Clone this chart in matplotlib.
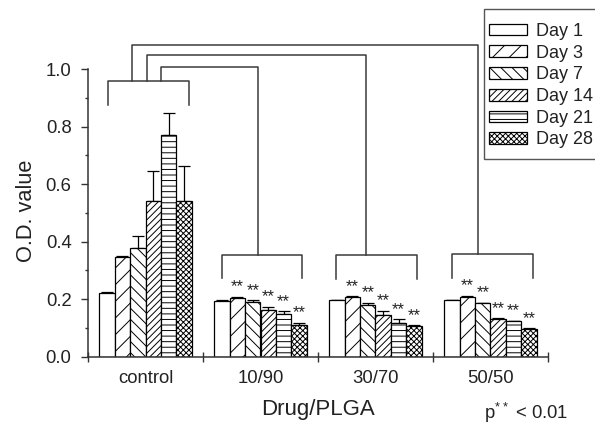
import matplotlib
matplotlib.use("Agg")
import matplotlib.pyplot as plt
from matplotlib.patches import Patch, Rectangle
import numpy as np

plt.rcParams['font.family'] = ['Liberation Sans', 'DejaVu Sans']
plt.rcParams['mathtext.fontset'] = 'custom'
plt.rcParams['mathtext.rm'] = 'Liberation Sans'
plt.rcParams['hatch.linewidth'] = 0.7

groups = ['control', '10/90', '30/70', '50/50']
days = ['Day 1', 'Day 3', 'Day 7', 'Day 14', 'Day 21', 'Day 28']

# O.D. values per day (one list per day, values per group)
day1 = [0.220, 0.194, 0.196, 0.196]
day3 = [0.345, 0.205, 0.207, 0.208]
day7 = [0.379, 0.189, 0.178, 0.185]
day14 = [0.541, 0.163, 0.145, 0.130]
day21 = [0.770, 0.149, 0.117, 0.122]
day28 = [0.541, 0.109, 0.105, 0.095]

# upper error
err1 = [0.003, 0.003, 0.002, 0.002]
err3 = [0.006, 0.003, 0.002, 0.003]
err7 = [0.040, 0.006, 0.009, 0.003]
err14 = [0.106, 0.011, 0.015, 0.003]
err21 = [0.078, 0.009, 0.012, 0.003]
err28 = [0.121, 0.009, 0.004, 0.003]

values = [day1, day3, day7, day14, day21, day28]
errors = [err1, err3, err7, err14, err21, err28]
hatches = ['', '//', '\\\\\\', '/////', '---', 'xxxxxx']
significant = [False, True, True, True]   # ** vs control for days 3-28

fig = plt.figure(figsize=(5.95, 4.24), dpi=100)
ax = fig.add_axes([88/595, 1 - 356.5/424, 460/595, (356.5 - 69.3)/424])

ink = '#222222'
w = 0.134
start = (1 - 6*w)/2
xg = np.arange(len(groups))
for i, (vals, errs) in enumerate(zip(values, errors)):
    x = xg + start + w*(i + 0.5)
    ax.bar(x, vals, width=w, color='white', edgecolor='black', linewidth=0.9,
           hatch=hatches[i], label=days[i], zorder=2)
    ax.errorbar(x, vals, yerr=[np.zeros(len(vals)), errs], fmt='none',
                ecolor='black', elinewidth=0.9, capsize=4.2, capthick=0.9, zorder=1)
    if i > 0:
        for j in range(len(groups)):
            if significant[j]:
                ax.text(x[j], vals[j] + errs[j] + 0.008, '**', ha='center', va='bottom',
                        fontsize=12, color=ink)

# comparison brackets (control vs each drug group)
bc = '#3a3a3a'
ctrl_x = [0.177, 0.878]
ctrl_y = [0.877, 0.961]
ax.plot([ctrl_x[0], ctrl_x[0], ctrl_x[1], ctrl_x[1]],
        [ctrl_y[0], ctrl_y[1], ctrl_y[1], ctrl_y[0]], color=bc, lw=1.1, clip_on=False)
br_left = [1.168, 2.154, 3.168]
br_right = [1.863, 2.858, 3.867]
br_top = [0.355, 0.354, 0.358]
br_bot = [0.273, 0.269, 0.273]
conn_start = [0.632, 0.51, 0.38]
conn_end = [1.48, 2.417, 3.389]
conn_top = [1.008, 1.049, 1.084]
for k in range(3):
    ax.plot([br_left[k], br_left[k], br_right[k], br_right[k]],
            [br_bot[k], br_top[k], br_top[k], br_bot[k]], color=bc, lw=1.1, clip_on=False)
    ax.plot([conn_start[k], conn_start[k], conn_end[k], conn_end[k]],
            [ctrl_y[1], conn_top[k], conn_top[k], br_top[k]], color=bc, lw=1.1, clip_on=False)

ax.set_xlim(0, 4)
ax.set_ylim(0, 1.0)
ax.spines['top'].set_visible(False)
ax.spines['right'].set_visible(False)
for s in ['left', 'bottom']:
    ax.spines[s].set_color('#333333')
    ax.spines[s].set_linewidth(1.1)

ax.set_xticks(range(5))
ax.set_xticklabels([])
ax.set_xticks(xg + 0.5, minor=True)
ax.set_xticklabels(groups, minor=True)
ax.tick_params(axis='x', which='major', direction='inout', length=6.5, width=1, color='#333333')
ax.tick_params(axis='x', which='minor', length=0, pad=10, labelsize=13.3, labelcolor=ink)

ax.set_yticks(np.arange(0, 1.01, 0.2))
ax.set_yticklabels(['%.1f' % v for v in np.arange(0, 1.01, 0.2)])
ax.set_yticks(np.arange(0.1, 1.0, 0.2), minor=True)
ax.tick_params(axis='y', which='major', direction='out', length=4.8, width=1, color='#333333',
               pad=7, labelsize=13.3, labelcolor=ink)
ax.tick_params(axis='y', which='minor', direction='out', length=2.4, width=1, color='#333333')

fig.text(26.7/595, 1 - 210.5/424, 'O.D. value', rotation=90, ha='center', va='center',
         fontsize=15.7, color=ink)
fig.text(318/595, 1 - 409/424, 'Drug/PLGA', ha='center', va='center', fontsize=16, color=ink)
fig.text(484/595, 1 - 413/424, r'p$^{**}$ < 0.01', ha='left', va='center', fontsize=13.3, color=ink)

# legend
fig.patches.append(Rectangle((484.3/595, 1 - 159.3/424), 0.3, 150/424, transform=fig.transFigure,
                             fill=False, edgecolor='#555555', lw=1.0))
handles = [Patch(facecolor='white', edgecolor='black', linewidth=0.9, hatch=h) for h in hatches]
fig.legend(handles, days, loc='upper left', bbox_to_anchor=(489.3/595, 1 - 23/424),
           frameon=False, borderpad=0, borderaxespad=0, fontsize=13,
           handlelength=2.1, handleheight=0.62, handletextpad=0.5, labelspacing=0.26,
           labelcolor=ink)

fig.savefig('out.png', dpi=100)
